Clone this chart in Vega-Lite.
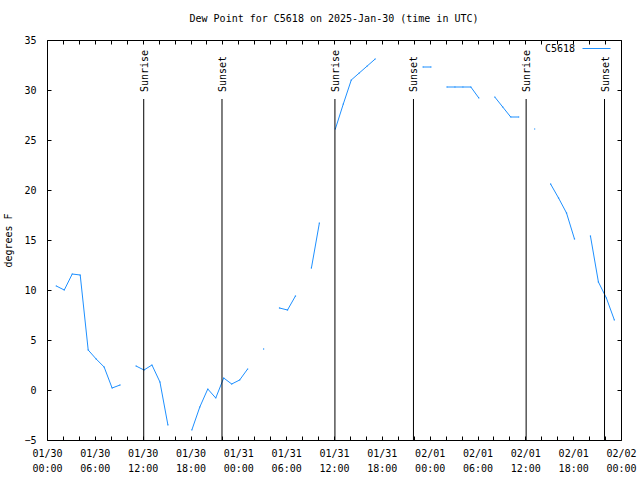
{
  "$schema": "https://vega.github.io/schema/vega-lite/v6.json",
  "autosize": {"type": "none"},
  "width": 574,
  "height": 400,
  "padding": {"left": 47, "top": 40, "right": 19, "bottom": 40},
  "background": "white",
  "title": {
    "text": "Dew Point for C5618 on 2025-Jan-30 (time in UTC)",
    "font": "DejaVu Sans Mono",
    "fontSize": 10,
    "fontWeight": "normal",
    "color": "black",
    "anchor": "middle",
    "offset": 10
  },
  "resolve": {"axis": {"x": "independent", "y": "independent"}},
  "config": {
    "view": {"stroke": "black", "strokeWidth": 1},
    "axis": {
      "domain": false,
      "grid": false,
      "tickSize": -4,
      "tickColor": "black",
      "labelFont": "DejaVu Sans Mono",
      "labelFontSize": 10,
      "labelColor": "black",
      "titleFont": "DejaVu Sans Mono",
      "titleFontSize": 10,
      "titleFontWeight": "normal",
      "titleColor": "black"
    },
    "legend": {
      "labelFont": "DejaVu Sans Mono",
      "labelFontSize": 10,
      "labelColor": "black"
    }
  },
  "datasets": {
    "dew": [
      {"time": "2025-01-30T01:10:00Z", "dewpoint": 10.4, "station": "C5618"},
      {"time": "2025-01-30T02:10:00Z", "dewpoint": 10.0, "station": "C5618"},
      {"time": "2025-01-30T03:10:00Z", "dewpoint": 11.6, "station": "C5618"},
      {"time": "2025-01-30T04:10:00Z", "dewpoint": 11.5, "station": "C5618"},
      {"time": "2025-01-30T05:10:00Z", "dewpoint": 4.0, "station": "C5618"},
      {"time": "2025-01-30T06:10:00Z", "dewpoint": 3.1, "station": "C5618"},
      {"time": "2025-01-30T07:10:00Z", "dewpoint": 2.3, "station": "C5618"},
      {"time": "2025-01-30T08:10:00Z", "dewpoint": 0.2, "station": "C5618"},
      {"time": "2025-01-30T09:10:00Z", "dewpoint": 0.5, "station": "C5618"},
      {"time": "2025-01-30T10:10:00Z", "dewpoint": null, "station": "C5618"},
      {"time": "2025-01-30T11:10:00Z", "dewpoint": 2.4, "station": "C5618"},
      {"time": "2025-01-30T12:10:00Z", "dewpoint": 2.0, "station": "C5618"},
      {"time": "2025-01-30T13:10:00Z", "dewpoint": 2.5, "station": "C5618"},
      {"time": "2025-01-30T14:10:00Z", "dewpoint": 0.8, "station": "C5618"},
      {"time": "2025-01-30T15:10:00Z", "dewpoint": -3.5, "station": "C5618"},
      {"time": "2025-01-30T16:10:00Z", "dewpoint": null, "station": "C5618"},
      {"time": "2025-01-30T17:10:00Z", "dewpoint": null, "station": "C5618"},
      {"time": "2025-01-30T18:10:00Z", "dewpoint": -4.0, "station": "C5618"},
      {"time": "2025-01-30T19:10:00Z", "dewpoint": -1.7, "station": "C5618"},
      {"time": "2025-01-30T20:10:00Z", "dewpoint": 0.1, "station": "C5618"},
      {"time": "2025-01-30T21:10:00Z", "dewpoint": -0.8, "station": "C5618"},
      {"time": "2025-01-30T22:10:00Z", "dewpoint": 1.2, "station": "C5618"},
      {"time": "2025-01-30T23:10:00Z", "dewpoint": 0.6, "station": "C5618"},
      {"time": "2025-01-31T00:10:00Z", "dewpoint": 1.0, "station": "C5618"},
      {"time": "2025-01-31T01:10:00Z", "dewpoint": 2.1, "station": "C5618"},
      {"time": "2025-01-31T02:10:00Z", "dewpoint": null, "station": "C5618"},
      {"time": "2025-01-31T03:10:00Z", "dewpoint": 4.1, "station": "C5618"},
      {"time": "2025-01-31T04:10:00Z", "dewpoint": null, "station": "C5618"},
      {"time": "2025-01-31T05:10:00Z", "dewpoint": 8.2, "station": "C5618"},
      {"time": "2025-01-31T06:10:00Z", "dewpoint": 8.0, "station": "C5618"},
      {"time": "2025-01-31T07:10:00Z", "dewpoint": 9.4, "station": "C5618"},
      {"time": "2025-01-31T08:10:00Z", "dewpoint": null, "station": "C5618"},
      {"time": "2025-01-31T09:10:00Z", "dewpoint": 12.2, "station": "C5618"},
      {"time": "2025-01-31T10:10:00Z", "dewpoint": 16.7, "station": "C5618"},
      {"time": "2025-01-31T11:10:00Z", "dewpoint": null, "station": "C5618"},
      {"time": "2025-01-31T12:10:00Z", "dewpoint": 26.1, "station": "C5618"},
      {"time": "2025-01-31T13:10:00Z", "dewpoint": 28.6, "station": "C5618"},
      {"time": "2025-01-31T14:10:00Z", "dewpoint": 31.0, "station": "C5618"},
      {"time": "2025-01-31T15:10:00Z", "dewpoint": 31.7, "station": "C5618"},
      {"time": "2025-01-31T16:10:00Z", "dewpoint": 32.4, "station": "C5618"},
      {"time": "2025-01-31T17:10:00Z", "dewpoint": 33.1, "station": "C5618"},
      {"time": "2025-01-31T18:10:00Z", "dewpoint": null, "station": "C5618"},
      {"time": "2025-01-31T19:10:00Z", "dewpoint": null, "station": "C5618"},
      {"time": "2025-01-31T20:10:00Z", "dewpoint": null, "station": "C5618"},
      {"time": "2025-01-31T21:10:00Z", "dewpoint": null, "station": "C5618"},
      {"time": "2025-01-31T22:10:00Z", "dewpoint": null, "station": "C5618"},
      {"time": "2025-01-31T23:10:00Z", "dewpoint": 32.3, "station": "C5618"},
      {"time": "2025-02-01T00:10:00Z", "dewpoint": 32.3, "station": "C5618"},
      {"time": "2025-02-01T01:10:00Z", "dewpoint": null, "station": "C5618"},
      {"time": "2025-02-01T02:10:00Z", "dewpoint": 30.3, "station": "C5618"},
      {"time": "2025-02-01T03:10:00Z", "dewpoint": 30.3, "station": "C5618"},
      {"time": "2025-02-01T04:10:00Z", "dewpoint": 30.3, "station": "C5618"},
      {"time": "2025-02-01T05:10:00Z", "dewpoint": 30.3, "station": "C5618"},
      {"time": "2025-02-01T06:10:00Z", "dewpoint": 29.2, "station": "C5618"},
      {"time": "2025-02-01T07:10:00Z", "dewpoint": null, "station": "C5618"},
      {"time": "2025-02-01T08:10:00Z", "dewpoint": 29.3, "station": "C5618"},
      {"time": "2025-02-01T09:10:00Z", "dewpoint": 28.3, "station": "C5618"},
      {"time": "2025-02-01T10:10:00Z", "dewpoint": 27.3, "station": "C5618"},
      {"time": "2025-02-01T11:10:00Z", "dewpoint": 27.3, "station": "C5618"},
      {"time": "2025-02-01T12:10:00Z", "dewpoint": null, "station": "C5618"},
      {"time": "2025-02-01T13:10:00Z", "dewpoint": 26.1, "station": "C5618"},
      {"time": "2025-02-01T14:10:00Z", "dewpoint": null, "station": "C5618"},
      {"time": "2025-02-01T15:10:00Z", "dewpoint": 20.6, "station": "C5618"},
      {"time": "2025-02-01T16:10:00Z", "dewpoint": 19.2, "station": "C5618"},
      {"time": "2025-02-01T17:10:00Z", "dewpoint": 17.7, "station": "C5618"},
      {"time": "2025-02-01T18:10:00Z", "dewpoint": 15.1, "station": "C5618"},
      {"time": "2025-02-01T19:10:00Z", "dewpoint": null, "station": "C5618"},
      {"time": "2025-02-01T20:10:00Z", "dewpoint": 15.4, "station": "C5618"},
      {"time": "2025-02-01T21:10:00Z", "dewpoint": 10.8, "station": "C5618"},
      {"time": "2025-02-01T22:10:00Z", "dewpoint": 9.2, "station": "C5618"},
      {"time": "2025-02-01T23:10:00Z", "dewpoint": 7.0, "station": "C5618"}
    ],
    "sun": [
      {"time": "2025-01-30T12:08:00Z", "event": "Sunrise"},
      {"time": "2025-01-30T21:57:00Z", "event": "Sunset"},
      {"time": "2025-01-31T12:07:00Z", "event": "Sunrise"},
      {"time": "2025-01-31T21:58:00Z", "event": "Sunset"},
      {"time": "2025-02-01T12:06:00Z", "event": "Sunrise"},
      {"time": "2025-02-01T21:56:00Z", "event": "Sunset"}
    ]
  },
  "layer": [
    {
      "data": {"name": "dew"},
      "mark": {"type": "line", "strokeWidth": 1},
      "encoding": {
        "x": {
          "field": "time",
          "type": "temporal",
          "scale": {
            "type": "utc",
            "domain": [
              {"year": 2025, "month": 1, "date": 30, "utc": true},
              {"year": 2025, "month": 2, "date": 2, "utc": true}
            ]
          },
          "axis": {
            "orient": "bottom",
            "title": null,
            "values": [
              {"year": 2025, "month": 1, "date": 30, "hours": 0, "utc": true},
              {"year": 2025, "month": 1, "date": 30, "hours": 2, "utc": true},
              {"year": 2025, "month": 1, "date": 30, "hours": 4, "utc": true},
              {"year": 2025, "month": 1, "date": 30, "hours": 6, "utc": true},
              {"year": 2025, "month": 1, "date": 30, "hours": 8, "utc": true},
              {"year": 2025, "month": 1, "date": 30, "hours": 10, "utc": true},
              {"year": 2025, "month": 1, "date": 30, "hours": 12, "utc": true},
              {"year": 2025, "month": 1, "date": 30, "hours": 14, "utc": true},
              {"year": 2025, "month": 1, "date": 30, "hours": 16, "utc": true},
              {"year": 2025, "month": 1, "date": 30, "hours": 18, "utc": true},
              {"year": 2025, "month": 1, "date": 30, "hours": 20, "utc": true},
              {"year": 2025, "month": 1, "date": 30, "hours": 22, "utc": true},
              {"year": 2025, "month": 1, "date": 31, "hours": 0, "utc": true},
              {"year": 2025, "month": 1, "date": 31, "hours": 2, "utc": true},
              {"year": 2025, "month": 1, "date": 31, "hours": 4, "utc": true},
              {"year": 2025, "month": 1, "date": 31, "hours": 6, "utc": true},
              {"year": 2025, "month": 1, "date": 31, "hours": 8, "utc": true},
              {"year": 2025, "month": 1, "date": 31, "hours": 10, "utc": true},
              {"year": 2025, "month": 1, "date": 31, "hours": 12, "utc": true},
              {"year": 2025, "month": 1, "date": 31, "hours": 14, "utc": true},
              {"year": 2025, "month": 1, "date": 31, "hours": 16, "utc": true},
              {"year": 2025, "month": 1, "date": 31, "hours": 18, "utc": true},
              {"year": 2025, "month": 1, "date": 31, "hours": 20, "utc": true},
              {"year": 2025, "month": 1, "date": 31, "hours": 22, "utc": true},
              {"year": 2025, "month": 2, "date": 1, "hours": 0, "utc": true},
              {"year": 2025, "month": 2, "date": 1, "hours": 2, "utc": true},
              {"year": 2025, "month": 2, "date": 1, "hours": 4, "utc": true},
              {"year": 2025, "month": 2, "date": 1, "hours": 6, "utc": true},
              {"year": 2025, "month": 2, "date": 1, "hours": 8, "utc": true},
              {"year": 2025, "month": 2, "date": 1, "hours": 10, "utc": true},
              {"year": 2025, "month": 2, "date": 1, "hours": 12, "utc": true},
              {"year": 2025, "month": 2, "date": 1, "hours": 14, "utc": true},
              {"year": 2025, "month": 2, "date": 1, "hours": 16, "utc": true},
              {"year": 2025, "month": 2, "date": 1, "hours": 18, "utc": true},
              {"year": 2025, "month": 2, "date": 1, "hours": 20, "utc": true},
              {"year": 2025, "month": 2, "date": 1, "hours": 22, "utc": true},
              {"year": 2025, "month": 2, "date": 2, "hours": 0, "utc": true}
            ],
            "labelExpr": "utchours(datum.value) % 6 == 0 ? [utcFormat(datum.value, '%m/%d'), utcFormat(datum.value, '%H:%M')] : ''",
            "labelOverlap": false,
            "labelFlush": false,
            "labelPadding": 12,
            "labelLineHeight": 15
          }
        },
        "y": {
          "field": "dewpoint",
          "type": "quantitative",
          "scale": {"domain": [-5, 35], "nice": false, "zero": false},
          "axis": {
            "orient": "left",
            "title": "degrees F",
            "values": [-5, 0, 5, 10, 15, 20, 25, 30, 35],
            "labelPadding": 15,
            "titlePadding": 10
          }
        },
        "color": {
          "field": "station",
          "type": "nominal",
          "scale": {"range": ["#1e90ff"]},
          "legend": {
            "title": null,
            "orient": "none",
            "legendX": 535,
            "legendY": -6,
            "symbolType": "stroke",
            "symbolSize": 784,
            "symbolStrokeWidth": 1,
            "labelAlign": "right",
            "labelOffset": -36
          }
        }
      }
    },
    {
      "data": {"name": "dew"},
      "mark": {"type": "point", "shape": "square", "size": 1.5, "filled": true, "opacity": 1},
      "encoding": {
        "x": {
          "field": "time",
          "type": "temporal",
          "axis": {
            "orient": "top",
            "title": null,
            "labels": false,
            "values": [
              {"year": 2025, "month": 1, "date": 30, "hours": 0, "utc": true},
              {"year": 2025, "month": 1, "date": 30, "hours": 2, "utc": true},
              {"year": 2025, "month": 1, "date": 30, "hours": 4, "utc": true},
              {"year": 2025, "month": 1, "date": 30, "hours": 6, "utc": true},
              {"year": 2025, "month": 1, "date": 30, "hours": 8, "utc": true},
              {"year": 2025, "month": 1, "date": 30, "hours": 10, "utc": true},
              {"year": 2025, "month": 1, "date": 30, "hours": 12, "utc": true},
              {"year": 2025, "month": 1, "date": 30, "hours": 14, "utc": true},
              {"year": 2025, "month": 1, "date": 30, "hours": 16, "utc": true},
              {"year": 2025, "month": 1, "date": 30, "hours": 18, "utc": true},
              {"year": 2025, "month": 1, "date": 30, "hours": 20, "utc": true},
              {"year": 2025, "month": 1, "date": 30, "hours": 22, "utc": true},
              {"year": 2025, "month": 1, "date": 31, "hours": 0, "utc": true},
              {"year": 2025, "month": 1, "date": 31, "hours": 2, "utc": true},
              {"year": 2025, "month": 1, "date": 31, "hours": 4, "utc": true},
              {"year": 2025, "month": 1, "date": 31, "hours": 6, "utc": true},
              {"year": 2025, "month": 1, "date": 31, "hours": 8, "utc": true},
              {"year": 2025, "month": 1, "date": 31, "hours": 10, "utc": true},
              {"year": 2025, "month": 1, "date": 31, "hours": 12, "utc": true},
              {"year": 2025, "month": 1, "date": 31, "hours": 14, "utc": true},
              {"year": 2025, "month": 1, "date": 31, "hours": 16, "utc": true},
              {"year": 2025, "month": 1, "date": 31, "hours": 18, "utc": true},
              {"year": 2025, "month": 1, "date": 31, "hours": 20, "utc": true},
              {"year": 2025, "month": 1, "date": 31, "hours": 22, "utc": true},
              {"year": 2025, "month": 2, "date": 1, "hours": 0, "utc": true},
              {"year": 2025, "month": 2, "date": 1, "hours": 2, "utc": true},
              {"year": 2025, "month": 2, "date": 1, "hours": 4, "utc": true},
              {"year": 2025, "month": 2, "date": 1, "hours": 6, "utc": true},
              {"year": 2025, "month": 2, "date": 1, "hours": 8, "utc": true},
              {"year": 2025, "month": 2, "date": 1, "hours": 10, "utc": true},
              {"year": 2025, "month": 2, "date": 1, "hours": 12, "utc": true},
              {"year": 2025, "month": 2, "date": 1, "hours": 14, "utc": true},
              {"year": 2025, "month": 2, "date": 1, "hours": 16, "utc": true},
              {"year": 2025, "month": 2, "date": 1, "hours": 18, "utc": true},
              {"year": 2025, "month": 2, "date": 1, "hours": 20, "utc": true},
              {"year": 2025, "month": 2, "date": 1, "hours": 22, "utc": true},
              {"year": 2025, "month": 2, "date": 2, "hours": 0, "utc": true}
            ]
          }
        },
        "y": {"field": "dewpoint", "type": "quantitative", "axis": {"orient": "right", "title": null, "labels": false, "values": [-5, 0, 5, 10, 15, 20, 25, 30, 35]}},
        "color": {"field": "station", "type": "nominal"}
      }
    },
    {
      "data": {"name": "sun"},
      "mark": {"type": "rule", "color": "black", "strokeWidth": 1},
      "encoding": {
        "x": {"field": "time", "type": "temporal", "axis": null},
        "y": {"datum": -5, "axis": null},
        "y2": {"datum": 29.1}
      }
    },
    {
      "data": {"name": "sun"},
      "mark": {"type": "text", "angle": 270, "align": "left", "baseline": "middle", "font": "DejaVu Sans Mono", "fontSize": 10, "color": "black", "dy": 1},
      "encoding": {
        "x": {"field": "time", "type": "temporal", "axis": null},
        "y": {"datum": 29.8, "axis": null},
        "text": {"field": "event"}
      }
    }
  ]
}
